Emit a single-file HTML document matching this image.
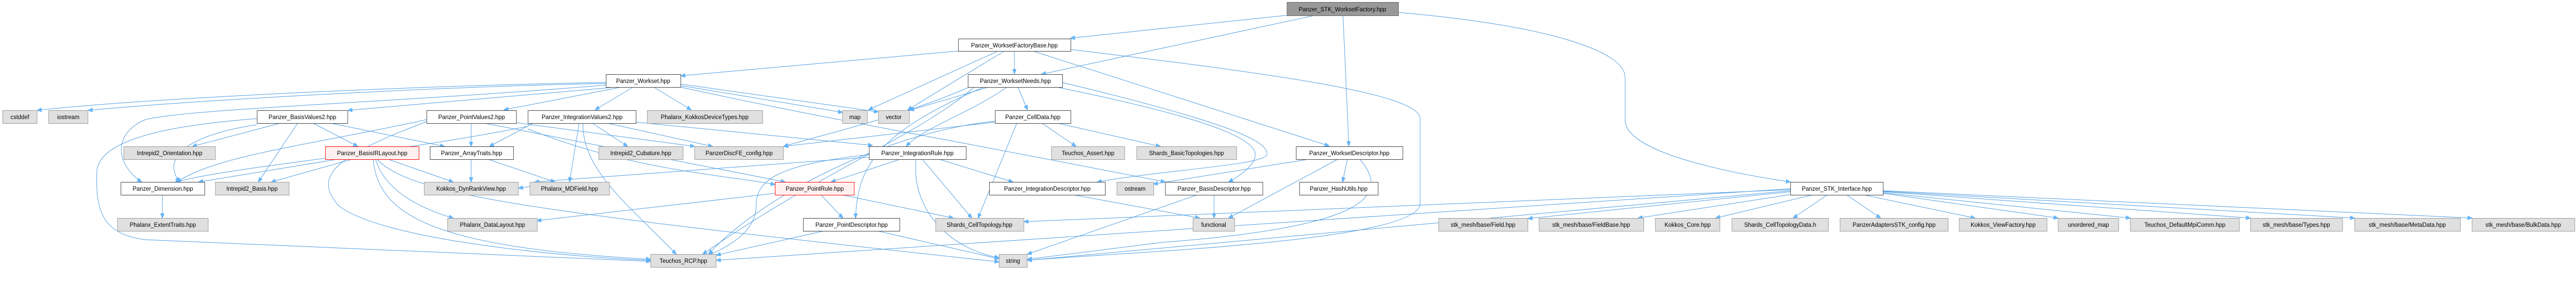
<!DOCTYPE html>
<html><head><meta charset="utf-8"><style>
html,body{margin:0;padding:0;background:#fff;width:100%;height:100%;overflow:hidden;}
svg{display:block;width:100vw;height:100vh;}
text{font-family:"Liberation Sans",sans-serif;font-size:12px;fill:#000;text-anchor:middle;}
.w{fill:#fff;stroke:#404040;stroke-width:1;}
.g{fill:#e0e0e0;stroke:#999;stroke-width:1;}
.r{fill:#fff0f0;stroke:#f00;stroke-width:1;}
.d{fill:#999;stroke:#666;stroke-width:1;}
.e path,.e line{fill:none;stroke:#4f9de0;stroke-width:1;marker-end:url(#a);}
</style></head><body>
<svg viewBox="0 0 5315 549" preserveAspectRatio="none" xmlns="http://www.w3.org/2000/svg">
<defs><marker id="a" markerWidth="10" markerHeight="8" refX="9" refY="4" orient="auto" markerUnits="userSpaceOnUse"><path d="M0,0 L10,4 L0,8 z" fill="#63b8ff" stroke="#4f9de0" stroke-width="0.5"/></marker></defs>
<g class="e">
<line x1="2662" y1="29" x2="2209" y2="74"/>
<line x1="2717" y1="29" x2="2149" y2="144"/>
<line x1="2771" y1="30" x2="2783" y2="283"/>
<path d="M2885,24 C3200,50 3353,100 3353,150 L3353,233 C3353,300 3600,340 3694,353"/>
<line x1="1977" y1="99" x2="1405" y2="147"/>
<line x1="2057" y1="100" x2="1792" y2="213"/>
<line x1="2072" y1="99" x2="1873" y2="213"/>
<line x1="2093" y1="99" x2="2093" y2="143"/>
<line x1="2131" y1="99" x2="2742" y2="283"/>
<path d="M2209,96 C2600,140 2930,180 2930,230 L2930,395 C2930,470 2300,490 2120,505"/>
<path d="M1250,160 C900,165 300,190 77,214"/>
<path d="M1250,162 C900,168 400,195 182,214"/>
<line x1="1260" y1="170" x2="718" y2="214"/>
<line x1="1282" y1="169" x2="1040" y2="213"/>
<line x1="1306" y1="169" x2="1228" y2="213"/>
<line x1="1349" y1="169" x2="1426" y2="213"/>
<line x1="1404" y1="166" x2="1738" y2="218"/>
<line x1="1404" y1="163" x2="1812" y2="217"/>
<path d="M1250,165 C800,200 400,210 300,232 C230,260 240,320 292,353"/>
<path d="M1404,169 C1700,230 1900,260 2404,353"/>
<line x1="2040" y1="169" x2="1877" y2="214"/>
<line x1="2100" y1="169" x2="2120" y2="213"/>
<path d="M2000,169 C1850,230 1700,260 1617,284"/>
<path d="M2010,169 C1900,260 1700,330 1450,493"/>
<path d="M2030,169 C1800,260 1770,330 1765,423"/>
<path d="M2192,160 C2500,230 2620,270 2614,300 C2610,320 2400,330 2264,353"/>
<path d="M2180,169 C2500,230 2590,270 2590,300 C2590,320 2560,340 2535,353"/>
<path d="M2076,170 C2000,220 1900,250 1870,284"/>
<line x1="2053" y1="237" x2="1617" y2="284"/>
<line x1="2150" y1="239" x2="2220" y2="284"/>
<line x1="2182" y1="239" x2="2394" y2="284"/>
<line x1="2098" y1="239" x2="2018" y2="423"/>
<path d="M2053,235 C1800,260 1550,400 1462,493"/>
<line x1="1222" y1="239" x2="1295" y2="284"/>
<line x1="1253" y1="239" x2="1470" y2="284"/>
<line x1="1312" y1="237" x2="1800" y2="282"/>
<line x1="1195" y1="239" x2="1175" y2="353"/>
<path d="M1203,239 C1200,330 1300,400 1395,493"/>
<path d="M1089,245 C800,300 500,320 362,353"/>
<line x1="1100" y1="239" x2="1010" y2="284"/>
<path d="M1089,250 C1300,330 1500,340 1599,358"/>
<path d="M880,232 C650,280 450,300 365,353"/>
<line x1="972" y1="239" x2="972" y2="284"/>
<line x1="1065" y1="238" x2="1433" y2="284"/>
<path d="M880,236 C700,300 640,340 700,400 C800,470 1200,500 1342,505"/>
<line x1="1000" y1="239" x2="1620" y2="353"/>
<line x1="578" y1="239" x2="397" y2="284"/>
<line x1="614" y1="239" x2="533" y2="353"/>
<line x1="646" y1="239" x2="738" y2="284"/>
<line x1="682" y1="239" x2="917" y2="284"/>
<path d="M530,242 C400,260 330,300 370,353"/>
<path d="M530,230 C400,240 210,260 200,330 C195,420 220,455 300,465 L1342,507"/>
<line x1="696" y1="309" x2="410" y2="353"/>
<line x1="726" y1="309" x2="560" y2="353"/>
<line x1="801" y1="309" x2="935" y2="353"/>
<path d="M775,309 C790,360 850,400 935,423"/>
<path d="M770,309 C780,420 900,480 1342,503"/>
<path d="M778,309 C850,380 1100,410 2061,508"/>
<line x1="972" y1="309" x2="972" y2="353"/>
<line x1="1007" y1="309" x2="1145" y2="353"/>
<line x1="335" y1="378" x2="335" y2="423"/>
<line x1="1093" y1="362" x2="1070" y2="365"/>
<line x1="1857" y1="309" x2="1715" y2="353"/>
<line x1="1903" y1="309" x2="2005" y2="423"/>
<path d="M1890,309 C1880,400 1950,480 2061,500"/>
<path d="M1793,300 C1600,320 1560,350 1560,400 C1560,450 1500,480 1462,495"/>
<line x1="1793" y1="305" x2="1103" y2="353"/>
<line x1="1938" y1="309" x2="2090" y2="353"/>
<line x1="1694" y1="378" x2="1739" y2="423"/>
<line x1="1737" y1="378" x2="1967" y2="423"/>
<line x1="1599" y1="375" x2="1108" y2="428"/>
<line x1="1700" y1="448" x2="1478" y2="495"/>
<line x1="1810" y1="448" x2="2061" y2="502"/>
<line x1="2215" y1="378" x2="2475" y2="423"/>
<line x1="2505" y1="378" x2="2505" y2="423"/>
<line x1="2470" y1="378" x2="2120" y2="493"/>
<line x1="2700" y1="309" x2="2380" y2="357"/>
<line x1="2760" y1="309" x2="2535" y2="423"/>
<line x1="2780" y1="309" x2="2770" y2="353"/>
<path d="M2806,309 C2870,380 2820,440 2400,470 L2120,503"/>
<line x1="3694" y1="372" x2="3153" y2="424"/>
<line x1="3704" y1="376" x2="3380" y2="423"/>
<line x1="3740" y1="378" x2="3540" y2="423"/>
<line x1="3770" y1="378" x2="3700" y2="423"/>
<line x1="3810" y1="378" x2="3880" y2="423"/>
<line x1="3845" y1="378" x2="4075" y2="423"/>
<line x1="3885" y1="375" x2="4246" y2="423"/>
<line x1="3885" y1="374" x2="4395" y2="423"/>
<line x1="3885" y1="372" x2="4643" y2="423"/>
<line x1="3885" y1="371" x2="4858" y2="423"/>
<line x1="3885" y1="370" x2="5100" y2="423"/>
<line x1="3694" y1="368" x2="2113" y2="430"/>
<line x1="3694" y1="370" x2="2120" y2="505"/>
<line x1="3694" y1="366" x2="1478" y2="505"/>
</g>
<g>
<rect class="d" x="2655.5" y="4.5" width="230" height="26"/><text x="2770" y="22">Panzer_STK_WorksetFactory.hpp</text>
<rect class="w" x="1977.5" y="75.5" width="232" height="24"/><text x="2093" y="92">Panzer_WorksetFactoryBase.hpp</text>
<rect class="w" x="1250.5" y="144.5" width="154" height="25"/><text x="1327" y="161">Panzer_Workset.hpp</text>
<rect class="w" x="1997.5" y="144.5" width="195" height="25"/><text x="2095" y="161">Panzer_WorksetNeeds.hpp</text>
<rect class="g" x="5.5" y="214.5" width="71" height="25"/><text x="41" y="231">cstddef</text>
<rect class="g" x="100.5" y="214.5" width="81" height="25"/><text x="141" y="231">iostream</text>
<rect class="w" x="530.5" y="214.5" width="187" height="25"/><text x="624" y="231">Panzer_BasisValues2.hpp</text>
<rect class="w" x="880.5" y="214.5" width="185" height="25"/><text x="973" y="231">Panzer_PointValues2.hpp</text>
<rect class="w" x="1089.5" y="214.5" width="223" height="25"/><text x="1201" y="231">Panzer_IntegrationValues2.hpp</text>
<rect class="g" x="1335.5" y="214.5" width="238" height="25"/><text x="1454" y="231">Phalanx_KokkosDeviceTypes.hpp</text>
<rect class="g" x="1738.5" y="214.5" width="51" height="25"/><text x="1764" y="231">map</text>
<rect class="g" x="1812.5" y="214.5" width="64" height="25"/><text x="1844" y="231">vector</text>
<rect class="w" x="2053.5" y="214.5" width="156" height="25"/><text x="2131" y="231">Panzer_CellData.hpp</text>
<rect class="g" x="255.5" y="284.5" width="189" height="25"/><text x="350" y="301">Intrepid2_Orientation.hpp</text>
<rect class="r" x="671.5" y="284.5" width="193" height="25"/><text x="768" y="301">Panzer_BasisIRLayout.hpp</text>
<rect class="w" x="887.5" y="284.5" width="172" height="25"/><text x="973" y="301">Panzer_ArrayTraits.hpp</text>
<rect class="g" x="1235.5" y="284.5" width="174" height="25"/><text x="1322" y="301">Intrepid2_Cubature.hpp</text>
<rect class="g" x="1433.5" y="284.5" width="183" height="25"/><text x="1525" y="301">PanzerDiscFE_config.hpp</text>
<rect class="w" x="1793.5" y="284.5" width="200" height="25"/><text x="1893" y="301">Panzer_IntegrationRule.hpp</text>
<rect class="g" x="2169.5" y="284.5" width="151" height="25"/><text x="2245" y="301">Teuchos_Assert.hpp</text>
<rect class="g" x="2345.5" y="284.5" width="206" height="25"/><text x="2448" y="301">Shards_BasicTopologies.hpp</text>
<rect class="w" x="2674.5" y="284.5" width="220" height="25"/><text x="2784" y="301">Panzer_WorksetDescriptor.hpp</text>
<rect class="w" x="249.5" y="353.5" width="173" height="25"/><text x="336" y="370">Panzer_Dimension.hpp</text>
<rect class="g" x="444.5" y="353.5" width="152" height="25"/><text x="520" y="370">Intrepid2_Basis.hpp</text>
<rect class="g" x="875.5" y="353.5" width="194" height="25"/><text x="972" y="370">Kokkos_DynRankView.hpp</text>
<rect class="g" x="1093.5" y="353.5" width="164" height="25"/><text x="1175" y="370">Phalanx_MDField.hpp</text>
<rect class="r" x="1599.5" y="353.5" width="163" height="25"/><text x="1681" y="370">Panzer_PointRule.hpp</text>
<rect class="w" x="2041.5" y="353.5" width="239" height="25"/><text x="2161" y="370">Panzer_IntegrationDescriptor.hpp</text>
<rect class="g" x="2304.5" y="353.5" width="76" height="25"/><text x="2342" y="370">ostream</text>
<rect class="w" x="2404.5" y="353.5" width="201" height="25"/><text x="2505" y="370">Panzer_BasisDescriptor.hpp</text>
<rect class="w" x="2681.5" y="353.5" width="162" height="25"/><text x="2762" y="370">Panzer_HashUtils.hpp</text>
<rect class="w" x="3694.5" y="353.5" width="191" height="25"/><text x="3790" y="370">Panzer_STK_Interface.hpp</text>
<rect class="g" x="242.5" y="423.5" width="187" height="25"/><text x="336" y="440">Phalanx_ExtentTraits.hpp</text>
<rect class="g" x="923.5" y="423.5" width="185" height="25"/><text x="1016" y="440">Phalanx_DataLayout.hpp</text>
<rect class="w" x="1657.5" y="423.5" width="199" height="25"/><text x="1757" y="440">Panzer_PointDescriptor.hpp</text>
<rect class="g" x="1930.5" y="423.5" width="182" height="25"/><text x="2021" y="440">Shards_CellTopology.hpp</text>
<rect class="g" x="2461.5" y="423.5" width="86" height="25"/><text x="2504" y="440">functional</text>
<rect class="g" x="2968.5" y="423.5" width="184" height="25"/><text x="3060" y="440">stk_mesh/base/Field.hpp</text>
<rect class="g" x="3175.5" y="423.5" width="216" height="25"/><text x="3283" y="440">stk_mesh/base/FieldBase.hpp</text>
<rect class="g" x="3415.5" y="423.5" width="133" height="25"/><text x="3482" y="440">Kokkos_Core.hpp</text>
<rect class="g" x="3573.5" y="423.5" width="199" height="25"/><text x="3673" y="440">Shards_CellTopologyData.h</text>
<rect class="g" x="3796.5" y="423.5" width="223" height="25"/><text x="3908" y="440">PanzerAdaptersSTK_config.hpp</text>
<rect class="g" x="4042.5" y="423.5" width="181" height="25"/><text x="4133" y="440">Kokkos_ViewFactory.hpp</text>
<rect class="g" x="4246.5" y="423.5" width="125" height="25"/><text x="4309" y="440">unordered_map</text>
<rect class="g" x="4395.5" y="423.5" width="225" height="25"/><text x="4508" y="440">Teuchos_DefaultMpiComm.hpp</text>
<rect class="g" x="4643.5" y="423.5" width="190" height="25"/><text x="4738" y="440">stk_mesh/base/Types.hpp</text>
<rect class="g" x="4858.5" y="423.5" width="218" height="25"/><text x="4967" y="440">stk_mesh/base/MetaData.hpp</text>
<rect class="g" x="5100.5" y="423.5" width="212" height="25"/><text x="5206" y="440">stk_mesh/base/BulkData.hpp</text>
<rect class="g" x="1342.5" y="493.5" width="135" height="25"/><text x="1410" y="510">Teuchos_RCP.hpp</text>
<rect class="g" x="2061.5" y="493.5" width="58" height="25"/><text x="2090" y="510">string</text>
</g>
</svg>
</body></html>
